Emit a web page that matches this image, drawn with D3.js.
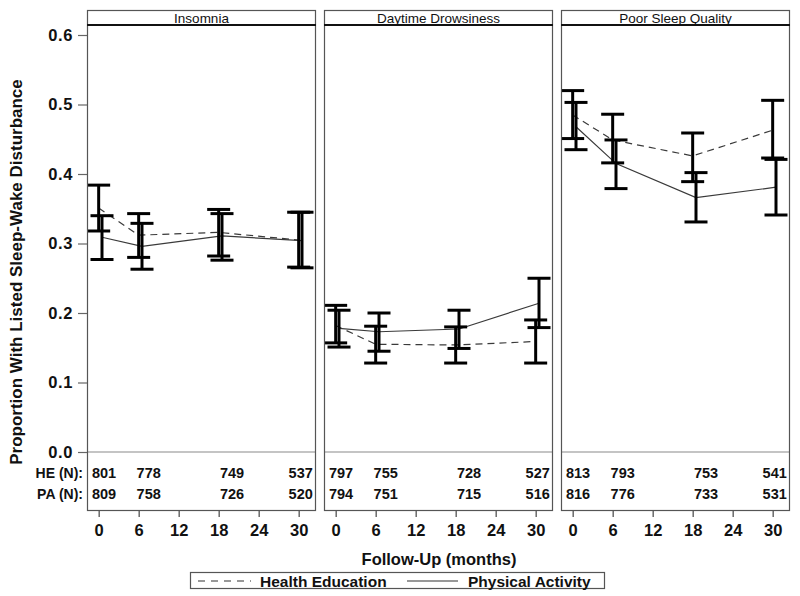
<!DOCTYPE html>
<html>
<head>
<meta charset="utf-8">
<script src="https://cdn.jsdelivr.net/npm/d3@7/dist/d3.min.js"></script>
<style>
  html, body { margin: 0; padding: 0; background: #fff; }
  svg { display: block; font-family: "Liberation Sans", Arial, sans-serif; }
</style>
</head>
<body>
<div id="chart"></div>
<script>
// ---------------- data ----------------
const panels = ["Insomnia", "Daytime Drowsiness", "Poor Sleep Quality"];
const months = [0, 6, 18, 30];
const xTicks = [0, 6, 12, 18, 24, 30];
const yTicks = [0.0, 0.1, 0.2, 0.3, 0.4, 0.5, 0.6];

// Health Education (HE)
const heMean = [[0.351, 0.312, 0.316, 0.305], [0.182, 0.155, 0.154, 0.159], [0.485, 0.449, 0.426, 0.463]];
const heLo   = [[0.318, 0.280, 0.282, 0.266], [0.157, 0.128, 0.128, 0.128], [0.451, 0.416, 0.389, 0.423]];
const heHi   = [[0.384, 0.343, 0.349, 0.345], [0.211, 0.181, 0.180, 0.190], [0.520, 0.486, 0.459, 0.506]];
// Physical Activity (PA)
const paMean = [[0.309, 0.296, 0.311, 0.304], [0.178, 0.173, 0.177, 0.214], [0.468, 0.415, 0.366, 0.381]];
const paLo   = [[0.277, 0.263, 0.276, 0.265], [0.151, 0.145, 0.149, 0.179], [0.435, 0.379, 0.331, 0.341]];
const paHi   = [[0.340, 0.329, 0.343, 0.345], [0.204, 0.200, 0.204, 0.250], [0.503, 0.449, 0.402, 0.421]];
// PA estimates are plotted slightly offset (months)
const paOffset = 0.5;

// Sample sizes table
const heN = [[801, 778, 749, 537], [797, 755, 728, 527], [813, 793, 753, 541]];
const paN = [[809, 758, 726, 520], [794, 751, 715, 516], [816, 776, 733, 531]];
const nLabelMonths = [0.8, 7.5, 20.0, 30.3];
const nRowValues = [-0.030, -0.060];

const seriesNames = ["Health Education", "Physical Activity"];
const yTitle = "Proportion With Listed Sleep-Wake Disturbance";
const xTitle = "Follow-Up (months)";

// ---------------- layout ----------------
const W = 800, H = 596;
const panelLeft0 = 87, panelStep = 237, panelW = 229;
const panelTop = 10, stripH = 15, panelBottom = 511;

const svg = d3.select("#chart").append("svg").attr("width", W).attr("height", H);

const y = d3.scaleLinear().domain([0, 0.6]).range([452, 35]);
const capHalf = 11.5;

panels.forEach((name, p) => {
  const left = panelLeft0 + p * panelStep;
  const x = d3.scaleLinear().domain([-1.75, 32.6]).range([left, left + panelW]);
  const g = svg.append("g");

  // zero reference line
  g.append("line")
    .attr("x1", left).attr("x2", left + panelW)
    .attr("y1", y(0)).attr("y2", y(0))
    .attr("stroke", "#8a8a8a").attr("stroke-width", 1.2);

  // x axis ticks
  const xAxis = d3.axisBottom(x).tickValues(xTicks).tickSize(6).tickPadding(7).tickFormat(d3.format("d"));
  const xa = g.append("g").attr("transform", `translate(0,${panelBottom})`).call(xAxis);
  xa.select(".domain").remove();
  xa.selectAll(".tick line").attr("stroke", "#444").attr("stroke-width", 1.2);
  xa.selectAll(".tick text").attr("font-size", 16.5).attr("font-weight", "bold").attr("fill", "#111")
    .attr("font-family", "Liberation Sans, Arial, sans-serif");

  // connecting lines
  const line = d3.line().x(d => x(d[0])).y(d => y(d[1]));
  const heData = months.map((m, i) => [m, heMean[p][i]]);
  const paData = months.map((m, i) => [m + paOffset, paMean[p][i]]);
  g.append("path").datum(heData).attr("d", line)
    .attr("fill", "none").attr("stroke", "#3a3a3a").attr("stroke-width", 1.2)
    .attr("stroke-dasharray", "7,5");
  g.append("path").datum(paData).attr("d", line)
    .attr("fill", "none").attr("stroke", "#3a3a3a").attr("stroke-width", 1.2);

  // error bars
  const bars = [];
  months.forEach((m, i) => {
    bars.push({ xm: m, lo: heLo[p][i], hi: heHi[p][i] });
    bars.push({ xm: m + paOffset, lo: paLo[p][i], hi: paHi[p][i] });
  });
  const eb = g.append("g").attr("stroke", "#000").attr("stroke-width", 3).attr("fill", "none");
  bars.forEach(b => {
    const cx = x(b.xm);
    eb.append("line").attr("x1", cx).attr("x2", cx).attr("y1", y(b.lo)).attr("y2", y(b.hi));
    eb.append("line").attr("x1", cx - capHalf).attr("x2", cx + capHalf).attr("y1", y(b.lo)).attr("y2", y(b.lo));
    eb.append("line").attr("x1", cx - capHalf).attr("x2", cx + capHalf).attr("y1", y(b.hi)).attr("y2", y(b.hi));
  });

  // N table
  [heN[p], paN[p]].forEach((row, r) => {
    row.forEach((n, i) => {
      g.append("text")
        .attr("x", x(nLabelMonths[i])).attr("y", y(nRowValues[r]))
        .attr("dy", "0.36em").attr("text-anchor", "middle")
        .attr("font-size", 14.5).attr("font-weight", "bold").attr("fill", "#111")
        .text(n);
    });
  });

  // panel border
  g.append("rect")
    .attr("x", left + 0.5).attr("y", panelTop + 0.5)
    .attr("width", panelW - 1).attr("height", panelBottom - panelTop - 1)
    .attr("fill", "none").attr("stroke", "#555").attr("stroke-width", 1.2);
  // strip separator
  g.append("line")
    .attr("x1", left).attr("x2", left + panelW)
    .attr("y1", panelTop + stripH).attr("y2", panelTop + stripH)
    .attr("stroke", "#111").attr("stroke-width", 2);
  // strip label
  g.append("text")
    .attr("x", left + panelW / 2).attr("y", panelTop + stripH / 2 + 0.5)
    .attr("dy", "0.35em").attr("text-anchor", "middle")
    .attr("font-size", 13.5).attr("fill", "#111")
    .text(name);
});

// y axis
const yAxis = d3.axisLeft(y).tickValues(yTicks).tickSize(9).tickPadding(5).tickFormat(d3.format(".1f"));
const ya = svg.append("g").attr("transform", `translate(${panelLeft0},0)`).call(yAxis);
ya.select(".domain").remove();
ya.selectAll(".tick line").attr("stroke", "#666").attr("stroke-width", 1.2);
ya.selectAll(".tick text").attr("font-size", 16.5).attr("font-weight", "bold").attr("fill", "#111")
  .attr("letter-spacing", "0.6px")
  .attr("font-family", "Liberation Sans, Arial, sans-serif");

// N-table row labels
["HE (N):", "PA (N):"].forEach((lab, r) => {
  svg.append("text")
    .attr("x", 83).attr("y", y(nRowValues[r]))
    .attr("dy", "0.36em").attr("text-anchor", "end")
    .attr("font-size", 14).attr("font-weight", "bold").attr("fill", "#111")
    .text(lab);
});

// y title
svg.append("text")
  .attr("transform", "translate(22,272) rotate(-90)")
  .attr("text-anchor", "middle")
  .attr("font-size", 17).attr("font-weight", "bold").attr("fill", "#111")
  .text(yTitle);

// x title
svg.append("text")
  .attr("x", 439).attr("y", 565)
  .attr("text-anchor", "middle")
  .attr("font-size", 16.5).attr("font-weight", "bold").attr("fill", "#111")
  .text(xTitle);

// legend
const lg = svg.append("g");
lg.append("rect").attr("x", 190.5).attr("y", 572.5).attr("width", 414).attr("height", 16)
  .attr("fill", "#fff").attr("stroke", "#555").attr("stroke-width", 1.2);
lg.append("line").attr("x1", 198).attr("x2", 251).attr("y1", 581).attr("y2", 581)
  .attr("stroke", "#333").attr("stroke-width", 1.2).attr("stroke-dasharray", "7,6");
lg.append("text").attr("x", 260).attr("y", 581).attr("dy", "0.36em")
  .attr("font-size", 15.5).attr("font-weight", "bold").attr("fill", "#111").text(seriesNames[0]);
lg.append("line").attr("x1", 407).attr("x2", 458).attr("y1", 581).attr("y2", 581)
  .attr("stroke", "#333").attr("stroke-width", 1.2);
lg.append("text").attr("x", 468).attr("y", 581).attr("dy", "0.36em")
  .attr("font-size", 15.5).attr("font-weight", "bold").attr("fill", "#111").text(seriesNames[1]);
</script>
</body>
</html>
